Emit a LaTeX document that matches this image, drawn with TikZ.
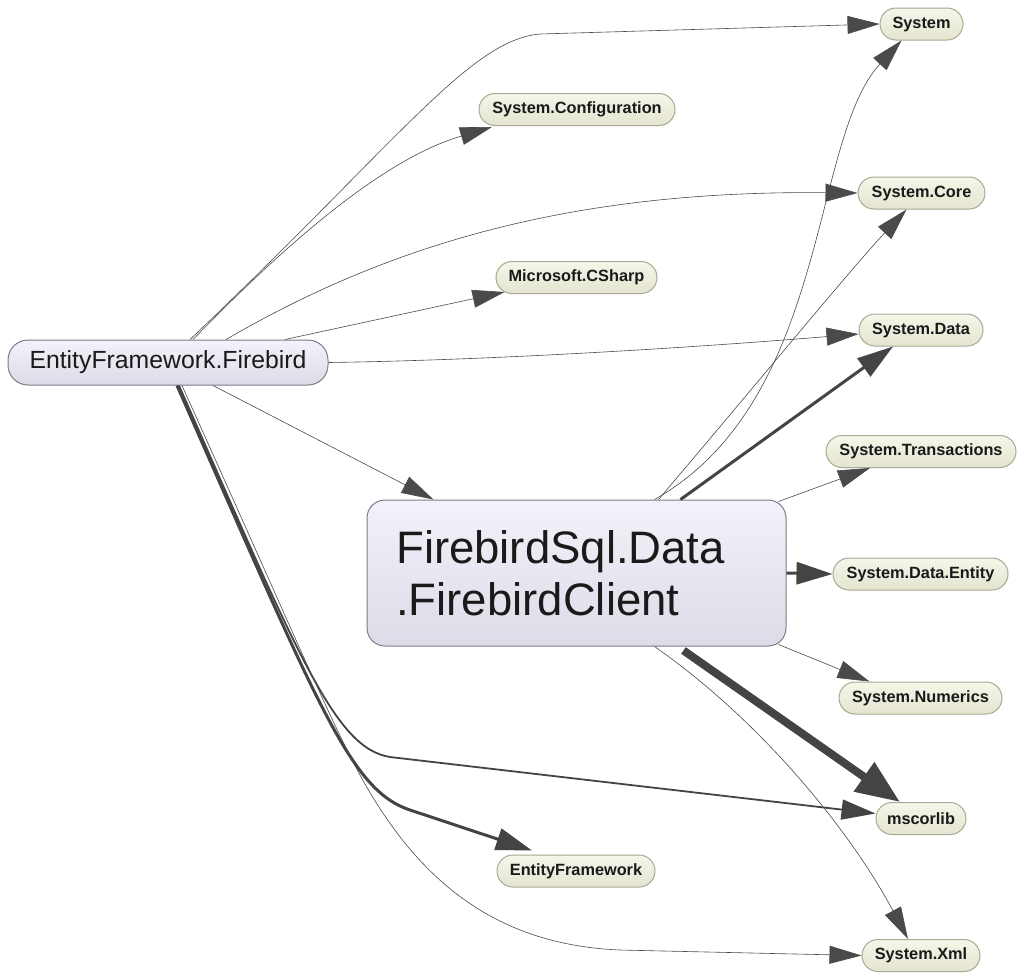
\documentclass[tikz,border=0pt]{standalone}
\usepackage{fontspec}
\setmainfont{Liberation Sans}
\usetikzlibrary{arrows.meta,calc,shapes.misc}
\definecolor{edgec}{HTML}{444444}
\definecolor{thinc}{HTML}{4A4A4A}
\definecolor{pilltop}{HTML}{F6F6EA}
\definecolor{pillbot}{HTML}{E4E4D0}
\definecolor{pilldraw}{HTML}{A8A894}
\definecolor{bigtop}{HTML}{F2F2FA}
\definecolor{bigbot}{HTML}{DCDCE8}
\definecolor{bigdraw}{HTML}{7C7C8A}
\definecolor{txt}{HTML}{1A1A1A}
\tikzset{
  pill/.style={rounded rectangle, draw=pilldraw, line width=1pt, top color=pilltop, bottom color=pillbot,
    minimum height=32pt, inner sep=0pt, text=txt, font=\fontsize{16.3}{19}\selectfont\bfseries},
  bigbox/.style={draw=bigdraw, line width=1pt, top color=bigtop, bottom color=bigbot, text=txt, inner sep=0pt},
  thinedge/.style={draw=thinc, line width=0.6pt, -{Triangle[length=32pt,width=18pt]}},
  thickedge/.style={draw=edgec, line width=3pt, -{Triangle[length=36pt,width=22pt]}},
  midedge/.style={draw=edgec, line width=1.8pt, -{Triangle[length=34pt,width=20pt]}},
  hugeedge/.style={draw=edgec, line width=8pt, -{Triangle[length=44pt,width=34pt]}},
}
\begin{document}
\begin{tikzpicture}[x=1pt,y=-1pt]
\useasboundingbox[fill=white] (0,0) rectangle (1024,978);
% nodes
\node[bigbox, rounded corners=20pt, minimum width=320pt, minimum height=45pt,
  font=\fontsize{24.8}{28}\selectfont] (eff) at (168,362.5) {EntityFramework.Firebird};
\node[bigbox, rounded corners=18pt, minimum width=419pt, minimum height=146pt] (fc) at (576.5,573) {};
\node[text=txt, font=\fontsize{45.5}{52}\selectfont, align=left, anchor=west, inner sep=0pt] (fctext) at (396,573)
  {FirebirdSql.Data\\.FirebirdClient};
\node[pill, minimum width=83pt] (sys) at (921.5,24) {System};
\node[pill, minimum width=196pt] (conf) at (577,109.5) {System.Configuration};
\node[pill, minimum width=127pt] (core) at (921.5,193) {System.Core};
\node[pill, minimum width=161pt] (cs) at (576.5,277.5) {Microsoft.CSharp};
\node[pill, minimum width=124pt] (data) at (921,330) {System.Data};
\node[pill, minimum width=190pt] (tr) at (921,451.5) {System.Transactions};
\node[pill, minimum width=175pt] (de) at (920.5,574) {System.Data.Entity};
\node[pill, minimum width=163pt] (num) at (920.5,698) {System.Numerics};
\node[pill, minimum width=90pt] (ms) at (921,818.5) {mscorlib};
\node[pill, minimum width=158pt] (ef) at (576,871) {EntityFramework};
\node[pill, minimum width=118pt] (xml) at (921,955.5) {System.Xml};
% edges from EntityFramework.Firebird
\draw[thinedge] ([xshift=22pt]eff.north) .. controls (400,140) and (470,40) .. (540,34) -- (sys.west);
\draw[thinedge] ([xshift=25pt]eff.north) .. controls (280,250) and (380,160) .. ([xshift=-85pt,yshift=-1pt]conf.south);
\draw[thinedge] ([xshift=58pt]eff.north) .. controls (380,250) and (560,190) .. (core.west);
\draw[thinedge] ([xshift=117pt]eff.north) -- ([xshift=-72pt,yshift=2pt]cs.south);
\draw[thinedge] (eff.east) .. controls (500,360) and (700,347) .. ([yshift=-4pt]data.west);
\draw[thinedge] ([xshift=45pt]eff.south) -- ([xshift=-143pt]fc.north);
\draw[midedge] ([xshift=11pt]eff.south) .. controls (300,660) and (335,748) .. (390,757) -- ([yshift=5pt]ms.west);
\draw[thickedge] ([xshift=9pt]eff.south) .. controls (320,710) and (350,790) .. (410,810) -- ([xshift=-44pt,yshift=4pt]ef.north);
\draw[thinedge] ([xshift=14pt]eff.south) .. controls (290,625) and (330,720) .. (360,775)
  .. controls (420,885) and (500,945) .. (620,950) -- (xml.west);
% edges from FirebirdClient
\draw[thinedge] ([xshift=78pt]fc.north) .. controls (830,400) and (810,140) .. ([xshift=-20pt]sys.south);
\draw[thinedge] ([xshift=82pt]fc.north) .. controls (760,380) and (850,270) .. ([xshift=-15pt]core.south);
\draw[thickedge] ([xshift=104pt]fc.north) -- ([xshift=-28pt]data.south);
\draw[thinedge] ([xshift=-8pt,yshift=-2pt]fc.north east) -- ([xshift=-51pt]tr.south);
\draw[thickedge] (fc.east) -- (de.west);
\draw[thinedge] ([xshift=-8pt,yshift=2pt]fc.south east) -- ([xshift=-51pt]num.north);
\draw[hugeedge] ([xshift=107pt,yshift=-4pt]fc.south) -- ([xshift=-21pt]ms.north);
\draw[thinedge] ([xshift=78pt]fc.south) .. controls (760,720) and (850,830) .. ([xshift=-13pt]xml.north);
\end{tikzpicture}
\end{document}
